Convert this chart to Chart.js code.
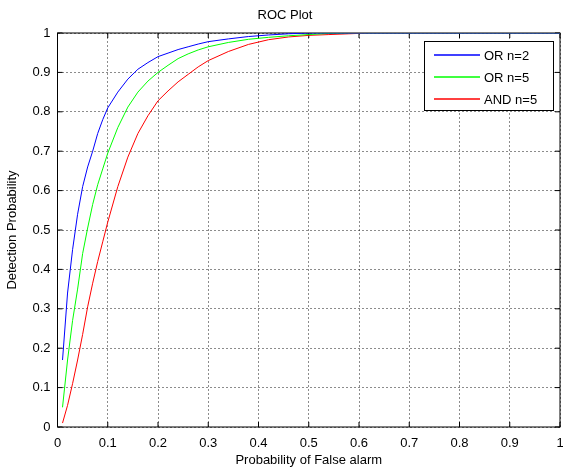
<!DOCTYPE html>
<html>
<head>
<meta charset="utf-8">
<script src="https://cdn.jsdelivr.net/npm/chart.js@4"></script>
<style>
  html, body { margin: 0; padding: 0; background: #fff; overflow: hidden; }
  #wrap { width: 563px; height: 470px; }
</style>
</head>
<body>
<div id="wrap"><canvas id="roc"></canvas></div>
<script>
// false alarm probabilities (x)
const pfa = [0.01, 0.02, 0.03, 0.04, 0.05, 0.06, 0.07, 0.08, 0.09, 0.10,
  0.12, 0.14, 0.16, 0.18, 0.20, 0.22, 0.24, 0.26, 0.28, 0.30,
  0.34, 0.38, 0.42, 0.46, 0.50, 0.54, 0.58, 0.62, 0.70, 0.80, 0.90, 1.00];

// detection probabilities
const orN2 = [0.17, 0.34, 0.45, 0.54, 0.61, 0.66, 0.70, 0.745, 0.78, 0.81,
  0.85, 0.883, 0.908, 0.925, 0.94, 0.949, 0.958, 0.965, 0.972, 0.978,
  0.985, 0.991, 0.995, 0.998, 1, 1, 1, 1, 1, 1, 1, 1];
const orN5 = [0.05, 0.17, 0.27, 0.35, 0.44, 0.505, 0.565, 0.615, 0.655, 0.695,
  0.76, 0.812, 0.85, 0.878, 0.90, 0.918, 0.935, 0.947, 0.957, 0.965,
  0.976, 0.984, 0.989, 0.993, 0.996, 0.999, 1, 1, 1, 1, 1, 1];
const andN5 = [0.01, 0.055, 0.11, 0.17, 0.235, 0.305, 0.365, 0.42, 0.47, 0.52,
  0.61, 0.685, 0.745, 0.79, 0.828, 0.853, 0.876, 0.895, 0.914, 0.93,
  0.953, 0.971, 0.983, 0.99, 0.994, 0.996, 0.998, 1, 1, 1, 1, 1];

const seriesNames = ['OR n=2', 'OR n=5', 'AND n=5'];
const seriesColors = ['#0000ff', '#00ff00', '#ff0000'];

const FONT = 'Arial, "Liberation Sans", sans-serif';

function pts(ys) {
  return pfa.map((x, i) => ({ x: x, y: ys[i] }));
}

// box, inside ticks, title and legend in the MATLAB style
const matlabFrame = {
  id: 'matlabFrame',
  beforeDatasetsDraw(chart) {
    const { ctx, chartArea: a, scales } = chart;
    ctx.save();
    ctx.strokeStyle = '#000';
    ctx.lineWidth = 1;
    ctx.strokeRect(a.left, a.top, a.right - a.left, a.bottom - a.top);
    ctx.beginPath();
    for (let i = 0; i <= 10; i++) {
      const x = scales.x.getPixelForValue(i / 10);
      ctx.moveTo(x, a.bottom); ctx.lineTo(x, a.bottom - 5);
      ctx.moveTo(x, a.top); ctx.lineTo(x, a.top + 5);
      const y = scales.y.getPixelForValue(i / 10);
      ctx.moveTo(a.left, y); ctx.lineTo(a.left + 5, y);
      ctx.moveTo(a.right, y); ctx.lineTo(a.right - 5, y);
    }
    ctx.stroke();
    ctx.restore();
  },
  afterDraw(chart) {
    const { ctx } = chart;
    ctx.save();
    ctx.setLineDash([]);
    ctx.fillStyle = '#000';
    ctx.font = '13px ' + FONT;
    ctx.textAlign = 'center';
    ctx.textBaseline = 'middle';
    ctx.fillText('ROC Plot', 285, 15);

    // legend
    const lx = 424, ly = 41, lw = 129, lh = 69;
    ctx.fillStyle = '#fff';
    ctx.fillRect(lx, ly, lw, lh);
    ctx.strokeStyle = '#000';
    ctx.lineWidth = 1;
    ctx.strokeRect(lx + 0.5, ly + 0.5, lw, lh);
    ctx.textAlign = 'left';
    seriesNames.forEach((name, i) => {
      const y = 55 + i * 22;
      ctx.strokeStyle = seriesColors[i];
      ctx.lineWidth = 1.5;
      ctx.beginPath();
      ctx.moveTo(434, y);
      ctx.lineTo(480, y);
      ctx.stroke();
      ctx.fillStyle = '#000';
      ctx.fillText(name, 484, y + 1);
    });
    ctx.restore();
  }
};

const ctx = document.getElementById('roc').getContext('2d');

const data = {
  datasets: seriesNames.map((name, i) => ({
    label: name,
    data: pts([orN2, orN5, andN5][i]),
    borderColor: seriesColors[i],
    backgroundColor: seriesColors[i],
    borderWidth: 1,
    pointRadius: 0,
    showLine: true,
    tension: 0
  }))
};

const gridStyle = {
  color: 'rgba(0,0,0,0.45)',
  lineWidth: 1,
  drawTicks: false
};

const config = {
  type: 'scatter',
  data: data,
  options: {
    responsive: true,
    maintainAspectRatio: false,
    animation: false,
    layout: { padding: { top: 33, right: 3, left: 0, bottom: 0 } },
    plugins: {
      legend: { display: false },
      title: { display: false },
      tooltip: { enabled: false }
    },
    scales: {
      x: {
        type: 'linear',
        min: 0,
        max: 1,
        grid: gridStyle,
        border: { display: false, dash: [2, 2] },
        ticks: {
          stepSize: 0.1,
          padding: 9,
          color: '#000',
          font: { family: FONT, size: 13 },
          callback: v => +v.toFixed(1)
        },
        title: {
          display: true,
          text: 'Probability of False alarm',
          color: '#000',
          font: { family: FONT, size: 13 },
          padding: { top: 0, bottom: 2 }
        },
        afterFit(scale) {
          scale.height = 43;
          scale.paddingRight = 0;
          scale.paddingLeft = 0;
        }
      },
      y: {
        type: 'linear',
        min: 0,
        max: 1,
        grid: gridStyle,
        border: { display: false, dash: [2, 2] },
        ticks: {
          stepSize: 0.1,
          padding: 7,
          color: '#000',
          font: { family: FONT, size: 13 },
          callback: v => +v.toFixed(1)
        },
        title: {
          display: true,
          text: 'Detection Probability',
          color: '#000',
          font: { family: FONT, size: 13 },
          padding: { top: 5, bottom: 0 }
        },
        afterFit(scale) {
          scale.width = 57.5;
          scale.paddingTop = 0;
          scale.paddingBottom = 0;
        }
      }
    }
  },
  plugins: [matlabFrame]
};

const rocChart = new Chart(ctx, config);
</script>
</body>
</html>
